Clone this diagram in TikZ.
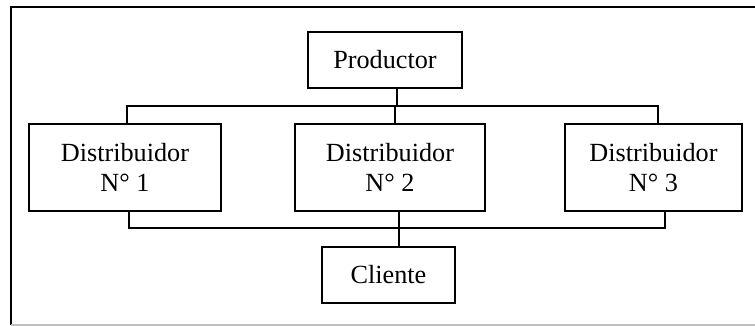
\documentclass[tikz,border=0pt]{standalone}
\usepackage{fontspec}
\setmainfont{Liberation Serif}
\begin{document}
\begin{tikzpicture}[x=0.5pt,y=-0.5pt,
  box/.style={draw=black,line width=1pt,inner sep=0pt,align=center,
    font=\fontsize{13.1pt}{15pt}\selectfont},
  link/.style={draw=black,line width=0.8pt}]
  \useasboundingbox (0,0) rectangle (755,326);
  % outer frame
  \draw[line width=1pt] (755,7) -- (11,7) -- (11,325);
  \draw[line width=0.8pt,black!25] (11,325) -- (755,325);

  % boxes
  \node[box,minimum width=77pt,minimum height=28pt] (prod) at (385,60) {Productor};
  \node[box,minimum width=96pt,minimum height=43.5pt] (d1) at (125,167.5) {Distribuidor\\N° 1};
  \node[box,minimum width=95pt,minimum height=43.5pt] (d2) at (390,167.5) {Distribuidor\\N° 2};
  \node[box,minimum width=88.5pt,minimum height=43.5pt] (d3) at (653.5,167.5) {Distribuidor\\N° 3};
  \node[box,minimum width=66.5pt,minimum height=28pt] (cl) at (388.5,275) {Cliente};

  % junction points
  \coordinate (t1) at (127,106);
  \coordinate (t2) at (395,106);
  \coordinate (tp) at (397,106);
  \coordinate (t3) at (658,106);
  \coordinate (b1) at (129,228);
  \coordinate (b2) at (399,228);
  \coordinate (b3) at (665,228);

  % producer to distributors
  \draw[link] (prod.south -| tp) -- (tp);
  \draw[link] (d1.north -| t1) -- (t1) -- (t3) -- (d3.north -| t3);
  \draw[link] (t2) -- (d2.north -| t2);
  % distributors to client
  \draw[link] (d1.south -| b1) -- (b1) -- (b3) -- (d3.south -| b3);
  \draw[link] (d2.south -| b2) -- (cl.north -| b2);
\end{tikzpicture}
\end{document}
